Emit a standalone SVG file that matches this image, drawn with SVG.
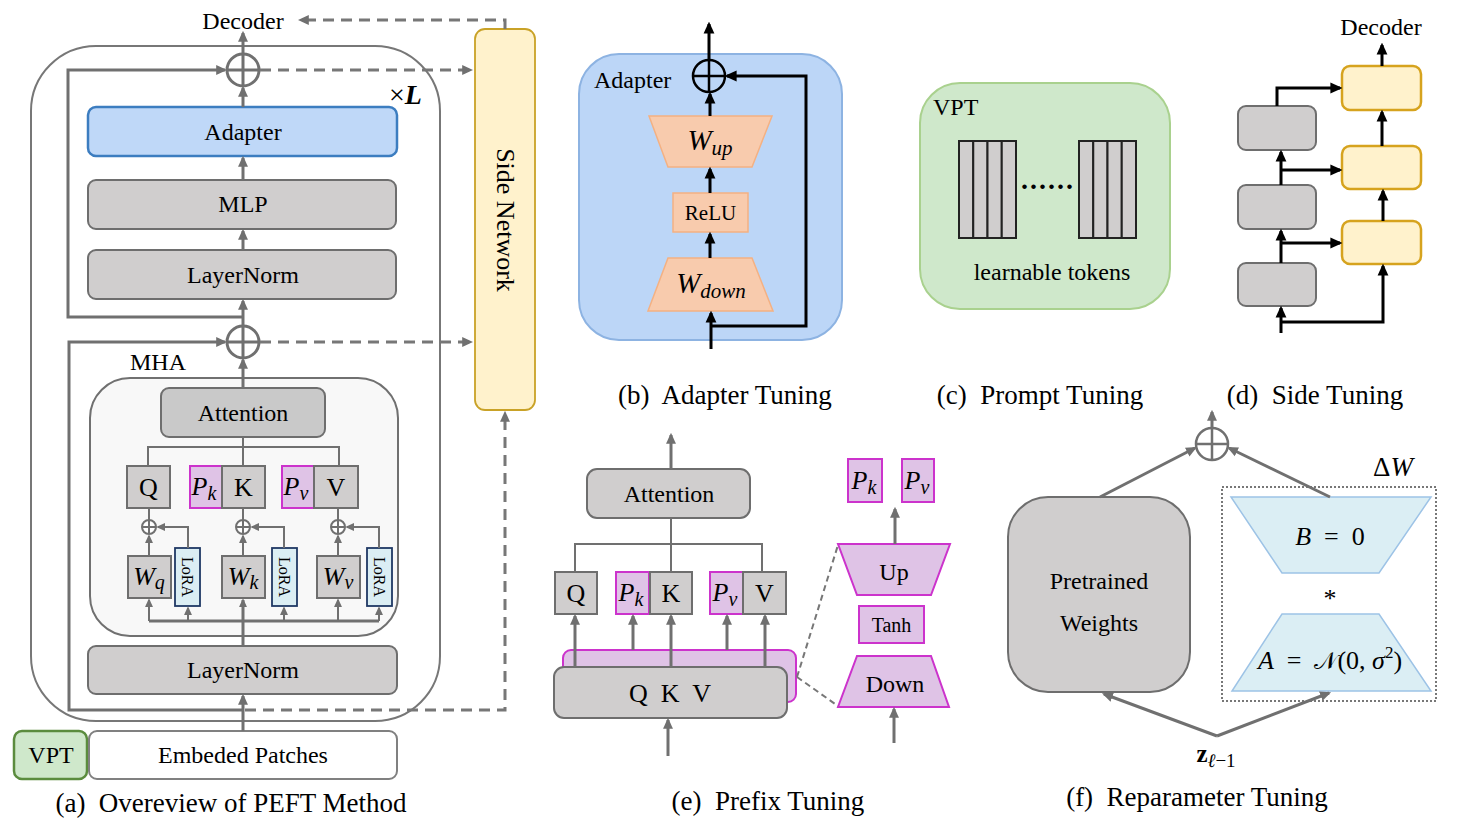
<svg xmlns="http://www.w3.org/2000/svg" width="1463" height="827" viewBox="0 0 1463 827">
<style>
text{font-family:"Liberation Serif","Times New Roman",serif;fill:#000}
.m{text-anchor:middle}
.i{font-style:italic}
.f24{font-size:24px}
.f26{font-size:26px}
.cap{font-size:27px;text-anchor:middle}
.gb{fill:#d0cece;stroke:#6e6e6e;stroke-width:2}
.pk{fill:#dfc3e6;stroke:#cc33cc;stroke-width:2}
.lora{fill:#dbeef4;stroke:#1f3864;stroke-width:1.8}
.yb{fill:#fff2cc;stroke:#d6a31e;stroke-width:2.5}
.or{fill:#f8cbad;stroke:#f4b183;stroke-width:1.5}
.lb{fill:#dbeef4;stroke:#9dc3e6;stroke-width:1.5}
.g3{fill:none;stroke:#707070;stroke-width:3}
.g2{fill:none;stroke:#707070;stroke-width:2}
.k3{fill:none;stroke:#000;stroke-width:3}
.dash{fill:none;stroke:#777;stroke-width:3;stroke-dasharray:11,7}
</style>
<defs>
<marker id="ag" viewBox="0 0 10 10" refX="8" refY="5" markerWidth="11" markerHeight="11" markerUnits="userSpaceOnUse" orient="auto"><path d="M0,0.5 L10,5 L0,9.5 z" fill="#707070"/></marker>
<marker id="ags" viewBox="0 0 10 10" refX="8" refY="5" markerWidth="9" markerHeight="9" markerUnits="userSpaceOnUse" orient="auto"><path d="M0,0.5 L10,5 L0,9.5 z" fill="#707070"/></marker>
<marker id="ab" viewBox="0 0 10 10" refX="8" refY="5" markerWidth="12" markerHeight="12" markerUnits="userSpaceOnUse" orient="auto"><path d="M0,0.5 L10,5 L0,9.5 z" fill="#000"/></marker>
</defs>
<rect width="1463" height="827" fill="#fff"/>

<!-- ===== Panel (a) ===== -->
<g id="a-block"><rect x="31" y="46" width="409" height="675" rx="65" fill="none" stroke="#777" stroke-width="2"/></g>
<g id="a-xL"><text x="389" y="104" font-size="28">×<tspan font-weight="bold" font-style="italic">L</tspan></text></g>
<g id="a-decoder"><text x="243" y="29" class="m f24">Decoder</text></g>
<g id="a-adapter"><rect x="88" y="107" width="309" height="49" rx="8" fill="#bfd8f8" stroke="#3c7dc0" stroke-width="2.5"/><text x="243" y="140" class="m f24">Adapter</text></g>
<g id="a-mlp"><rect x="88" y="180" width="308" height="49" rx="8" class="gb"/><text x="243" y="212" class="m f24">MLP</text></g>
<g id="a-ln1"><rect x="88" y="250" width="308" height="49" rx="8" class="gb"/><text x="243" y="283" class="m f24">LayerNorm</text></g>
<g id="a-mha"><rect x="90" y="378" width="308" height="258" rx="40" fill="#f8f8f8" stroke="#707070" stroke-width="2"/><text x="158" y="370" class="m f24">MHA</text></g>
<g id="a-attn"><rect x="161" y="388" width="164" height="49" rx="8" fill="#c9c9c9" stroke="#6e6e6e" stroke-width="2"/><text x="243" y="421" class="m f24">Attention</text></g>
<g id="a-q"><rect x="127" y="466" width="43" height="42" class="gb"/><text x="148.5" y="496" class="m f26">Q</text></g>
<g id="a-pk"><rect x="190" y="466" width="32" height="42" class="pk"/><text x="204" y="495" class="m f26 i">P<tspan font-size="20" dy="5">k</tspan></text></g>
<g id="a-k"><rect x="222" y="466" width="43" height="42" class="gb"/><text x="243.5" y="496" class="m f26">K</text></g>
<g id="a-pv"><rect x="282" y="466" width="32" height="42" class="pk"/><text x="296" y="495" class="m f26 i">P<tspan font-size="20" dy="5">v</tspan></text></g>
<g id="a-v"><rect x="314" y="466" width="44" height="42" class="gb"/><text x="336" y="496" class="m f26">V</text></g>
<g id="a-wq"><rect x="128" y="556" width="43" height="42" class="gb"/><text x="149" y="585" class="m f26 i">W<tspan font-size="20" dy="4">q</tspan></text></g>
<g id="a-wk"><rect x="222" y="556" width="43" height="42" class="gb"/><text x="243" y="585" class="m f26 i">W<tspan font-size="20" dy="4">k</tspan></text></g>
<g id="a-wv"><rect x="317" y="556" width="43" height="42" class="gb"/><text x="338" y="585" class="m f26 i">W<tspan font-size="20" dy="4">v</tspan></text></g>
<g id="a-loraq"><rect x="175" y="548" width="25" height="58" class="lora"/><text x="187.5" y="577" class="m" font-size="16" dominant-baseline="central" transform="rotate(90 187.5 577)">LoRA</text></g>
<g id="a-lorak"><rect x="272" y="548" width="25" height="58" class="lora"/><text x="284.5" y="577" class="m" font-size="16" dominant-baseline="central" transform="rotate(90 284.5 577)">LoRA</text></g>
<g id="a-lorav"><rect x="367" y="548" width="25" height="58" class="lora"/><text x="379.5" y="577" class="m" font-size="16" dominant-baseline="central" transform="rotate(90 379.5 577)">LoRA</text></g>
<g id="a-ln2"><rect x="88" y="646" width="309" height="48" rx="8" class="gb"/><text x="243" y="678" class="m f24">LayerNorm</text></g>
<g id="a-vpt"><rect x="14" y="731" width="73" height="48" rx="8" fill="#cfe8cb" stroke="#5b8c3e" stroke-width="2.5"/><text x="51" y="763" class="m f24">VPT</text></g>
<g id="a-embed"><rect x="89" y="731" width="308" height="48" rx="8" fill="#fff" stroke="#808080" stroke-width="2"/><text x="243" y="763" class="m f24">Embeded Patches</text></g>
<g id="a-side"><rect x="475" y="29" width="60" height="381" rx="10" fill="#fff2cc" stroke="#c9a227" stroke-width="1.8"/><text x="505" y="220" class="m f26" dominant-baseline="central" transform="rotate(90 505 220)">Side Network</text></g>
<g id="a-caption"><text x="231" y="812" class="cap" xml:space="preserve">(a)  Overeview of PEFT Method</text></g>

<!-- ===== Panel (b) ===== -->
<g id="b-adapter"><rect x="579" y="54" width="263" height="286" rx="40" fill="#bcd6f7" stroke="#8db3e2" stroke-width="2"/><text x="594" y="88" class="f24">Adapter</text></g>
<g id="b-wup"><polygon points="649,116 772,116 752,167 668,167" class="or"/><text x="710" y="150" class="m i" font-size="29">W<tspan font-size="21" dy="5">up</tspan></text></g>
<g id="b-relu"><rect x="673" y="193" width="75" height="39" class="or"/><text x="710.5" y="220" class="m" font-size="21">ReLU</text></g>
<g id="b-wdown"><polygon points="668,258 752,258 773,311 648,311" class="or"/><text x="711" y="293" class="m i" font-size="29">W<tspan font-size="21" dy="5">down</tspan></text></g>
<g id="b-caption"><text x="725" y="404" class="cap" xml:space="preserve">(b)  Adapter Tuning</text></g>

<!-- ===== Panel (c) ===== -->
<g id="c-vpt"><rect x="920" y="83" width="250" height="226" rx="40" fill="#cfe8cb" stroke="#a9d18e" stroke-width="2"/><text x="933" y="115" class="f24">VPT</text></g>
<g id="c-tokens-left" fill="#d0cece" stroke="#222" stroke-width="2">
<rect x="959" y="141" width="14.25" height="97"/><rect x="973.25" y="141" width="14.25" height="97"/><rect x="987.5" y="141" width="14.25" height="97"/><rect x="1001.75" y="141" width="14.25" height="97"/></g>
<g id="c-tokens-right" fill="#d0cece" stroke="#222" stroke-width="2">
<rect x="1079" y="141" width="14.25" height="97"/><rect x="1093.25" y="141" width="14.25" height="97"/><rect x="1107.5" y="141" width="14.25" height="97"/><rect x="1121.75" y="141" width="14.25" height="97"/></g>
<g id="c-dots"><text x="1048" y="189" class="m" font-size="28" font-weight="bold" letter-spacing="2">......</text></g>
<g id="c-label"><text x="1052" y="280" class="m f24">learnable tokens</text></g>
<g id="c-caption"><text x="1040" y="404" class="cap" xml:space="preserve">(c)  Prompt Tuning</text></g>

<!-- ===== Panel (d) ===== -->
<g id="d-decoder"><text x="1381" y="35" class="m f24">Decoder</text></g>
<g id="d-y1"><rect x="1342" y="66" width="79" height="44" rx="8" class="yb"/></g>
<g id="d-y2"><rect x="1342" y="146" width="79" height="43" rx="8" class="yb"/></g>
<g id="d-y3"><rect x="1342" y="221" width="79" height="43" rx="8" class="yb"/></g>
<g id="d-g1"><rect x="1238" y="106" width="78" height="44" rx="8" class="gb"/></g>
<g id="d-g2"><rect x="1238" y="185" width="78" height="44" rx="8" class="gb"/></g>
<g id="d-g3"><rect x="1238" y="263" width="78" height="43" rx="8" class="gb"/></g>
<g id="d-caption"><text x="1315" y="404" class="cap" xml:space="preserve">(d)  Side Tuning</text></g>

<!-- ===== Panel (e) ===== -->
<g id="e-attn"><rect x="587" y="469" width="163" height="49" rx="10" class="gb"/><text x="669" y="502" class="m f24">Attention</text></g>
<g id="e-q"><rect x="555" y="572" width="42" height="42" class="gb"/><text x="576" y="602" class="m f26">Q</text></g>
<g id="e-pk"><rect x="616" y="572" width="33" height="42" class="pk"/><text x="631" y="601" class="m f26 i">P<tspan font-size="20" dy="5">k</tspan></text></g>
<g id="e-k"><rect x="650" y="572" width="42" height="42" class="gb"/><text x="671" y="602" class="m f26">K</text></g>
<g id="e-pv"><rect x="710" y="572" width="33" height="42" class="pk"/><text x="725" y="601" class="m f26 i">P<tspan font-size="20" dy="5">v</tspan></text></g>
<g id="e-v"><rect x="743" y="572" width="43" height="42" class="gb"/><text x="764.5" y="602" class="m f26">V</text></g>
<g id="e-prefix"><rect x="563" y="650" width="233" height="52" rx="8" class="pk"/></g>
<g id="e-qkv"><rect x="554" y="667" width="233" height="51" rx="10" class="gb"/><text x="670" y="702" class="m f26" xml:space="preserve">Q  K  V</text></g>
<g id="e-up"><polygon points="838,544 950,544 931,595 857,595" class="pk"/><text x="894" y="580" class="m f24">Up</text></g>
<g id="e-tanh"><rect x="859" y="606" width="65" height="37" class="pk"/><text x="891.5" y="632" class="m" font-size="20">Tanh</text></g>
<g id="e-down"><polygon points="857,656 931,656 949,707 838,707" class="pk"/><text x="895" y="692" class="m f24">Down</text></g>
<g id="e-pk2"><rect x="848" y="459" width="34" height="43" class="pk"/><text x="864" y="489" class="m f26 i">P<tspan font-size="20" dy="5">k</tspan></text></g>
<g id="e-pv2"><rect x="902" y="459" width="32" height="43" class="pk"/><text x="917" y="489" class="m f26 i">P<tspan font-size="20" dy="5">v</tspan></text></g>
<g id="e-caption"><text x="768" y="810" class="cap" xml:space="preserve">(e)  Prefix Tuning</text></g>

<!-- ===== Panel (f) ===== -->
<g id="f-pretrained"><rect x="1008" y="497" width="182" height="195" rx="40" class="gb"/><text x="1099" y="589" class="m f24">Pretrained</text><text x="1099" y="631" class="m f24">Weights</text></g>
<g id="f-deltaW"><rect x="1222" y="487" width="214" height="214" fill="none" stroke="#777" stroke-width="2" stroke-dasharray="2,2"/><text x="1393" y="476" class="m" font-size="27">Δ<tspan font-style="italic">W</tspan></text></g>
<g id="f-B"><polygon points="1231,497 1431,497 1379,573 1282,573" class="lb"/><text x="1330" y="545" class="m f26" xml:space="preserve"><tspan font-style="italic">B</tspan>  =  0</text></g>
<g id="f-star"><text x="1330" y="607" class="m f26">*</text></g>
<g id="f-A"><polygon points="1282,614 1379,614 1431,691 1232,691" class="lb"/><text x="1330" y="669" class="m f26" xml:space="preserve"><tspan font-style="italic">A</tspan>  =  <tspan font-family="DejaVu Serif, serif" font-size="24">𝒩</tspan>(0, <tspan font-style="italic">σ</tspan><tspan font-size="17" dy="-11">2</tspan><tspan dy="11">)</tspan></text></g>
<g id="f-z"><text x="1216" y="762" class="m" font-size="25" font-weight="bold">z<tspan font-weight="normal" font-style="italic" font-size="19" dy="5">ℓ</tspan><tspan font-weight="normal" font-size="19">−1</tspan></text></g>
<g id="f-caption"><text x="1197" y="806" class="cap" xml:space="preserve">(f)  Reparameter Tuning</text></g>

<!-- ===== Connectors ===== -->
<g id="connectors">
<!-- (a) -->
<g class="g3">
<circle cx="243" cy="70" r="16" fill="#fff"/><path d="M227,70 H259 M243,54 V86"/>
<circle cx="243" cy="342" r="16" fill="#fff"/><path d="M227,342 H259 M243,326 V358"/>
<path d="M243,54 V33" marker-end="url(#ag)"/>
<path d="M243,107 V88" marker-end="url(#ag)"/>
<path d="M243,180 V158" marker-end="url(#ag)"/>
<path d="M243,250 V231" marker-end="url(#ag)"/>
<path d="M243,326 V301" marker-end="url(#ag)"/>
<path d="M243,388 V360" marker-end="url(#ag)"/>
<path d="M243,317 H68 V70 H225" marker-end="url(#ag)"/>
<path d="M242,710 H69 V342 H225" marker-end="url(#ag)"/>
<path d="M243,731 V696" marker-end="url(#ag)"/>
</g>
<path class="dash" d="M260,70 H471" marker-end="url(#ag)"/>
<path class="dash" d="M260,342 H471" marker-end="url(#ag)"/>
<path class="dash" d="M245,710 H505 V413" marker-end="url(#ag)"/>
<path class="dash" d="M505,29 V20 H300" marker-end="url(#ag)"/>
<g class="g2">
<path d="M243,437 V466 M148,466 V447 H339 V466"/>
<path d="M149,508 V520 M243,508 V520 M338,508 V520"/>
<circle cx="149" cy="527" r="7" fill="#fff"/><path d="M142,527 H156 M149,520 V534"/>
<circle cx="243" cy="527" r="7" fill="#fff"/><path d="M236,527 H250 M243,520 V534"/>
<circle cx="338" cy="527" r="7" fill="#fff"/><path d="M331,527 H345 M338,520 V534"/>
<path d="M149,556 V536" marker-end="url(#ags)"/>
<path d="M243,556 V536" marker-end="url(#ags)"/>
<path d="M338,556 V536" marker-end="url(#ags)"/>
<path d="M188,548 V527 H158" marker-end="url(#ags)"/>
<path d="M284,548 V527 H252" marker-end="url(#ags)"/>
<path d="M379,548 V527 H347" marker-end="url(#ags)"/>
<path d="M149,621 H379" stroke-width="3"/>
<path d="M149,621 V600" marker-end="url(#ags)"/>
<path d="M188,621 V608" marker-end="url(#ags)"/>
<path d="M243,646 V600" stroke-width="3" marker-end="url(#ags)"/>
<path d="M284,621 V608" marker-end="url(#ags)"/>
<path d="M338,621 V600" marker-end="url(#ags)"/>
<path d="M379,621 V608" marker-end="url(#ags)"/>
</g>
<!-- (b) -->
<g class="k3">
<circle cx="709" cy="76" r="16" fill="none" stroke-width="2.5"/><path d="M693,76 H725 M709,60 V92" stroke-width="2.5"/>
<path d="M709,60 V24" marker-end="url(#ab)"/>
<path d="M710,116 V94" marker-end="url(#ab)"/>
<path d="M710,193 V169" marker-end="url(#ab)"/>
<path d="M710,258 V234" marker-end="url(#ab)"/>
<path d="M711,349 V313" marker-end="url(#ab)"/>
<path d="M711,326 H806 V76 H727" marker-end="url(#ab)"/>
</g>
<!-- (d) -->
<g class="k3">
<path d="M1382,66 V45" marker-end="url(#ab)"/>
<path d="M1382,146 V112" marker-end="url(#ab)"/>
<path d="M1383,221 V191" marker-end="url(#ab)"/>
<path d="M1277,106 V88 H1340" marker-end="url(#ab)"/>
<path d="M1281,185 V152" marker-end="url(#ab)"/>
<path d="M1281,170 H1340" marker-end="url(#ab)"/>
<path d="M1281,263 V231" marker-end="url(#ab)"/>
<path d="M1281,243 H1340" marker-end="url(#ab)"/>
<path d="M1281,333 V308" marker-end="url(#ab)"/>
<path d="M1281,322 H1383 V266" marker-end="url(#ab)"/>
</g>
<!-- (e) -->
<g class="g2">
<path d="M671,518 V572 M575,572 V544 H762 V572"/>
</g>
<g class="g3">
<path d="M671,469 V435" marker-end="url(#ag)"/>
<path d="M575,667 V616" marker-end="url(#ag)"/>
<path d="M633,650 V616" marker-end="url(#ag)"/>
<path d="M671,667 V616" marker-end="url(#ag)"/>
<path d="M727,650 V616" marker-end="url(#ag)"/>
<path d="M765,667 V616" marker-end="url(#ag)"/>
<path d="M668,756 V720" marker-end="url(#ag)"/>
<path d="M894,743 V709" marker-end="url(#ag)"/>
<path d="M895,544 V509" marker-end="url(#ag)"/>
</g>
<path d="M797,677 L838,545 M797,677 L838,706" fill="none" stroke="#777" stroke-width="2" stroke-dasharray="6,4"/>
<!-- (f) -->
<g class="g3">
<circle cx="1212" cy="444" r="16" fill="#fff" stroke-width="2.5"/><path d="M1196,444 H1228 M1212,428 V460" stroke-width="2.5"/>
<path d="M1212,428 V412" marker-end="url(#ag)"/>
<path d="M1100,497 L1195,448" marker-end="url(#ag)"/>
<path d="M1330,497 L1229,448" marker-end="url(#ag)"/>
<path d="M1217,736 L1104,694" marker-end="url(#ag)"/>
<path d="M1217,736 L1329,693" marker-end="url(#ag)"/>
</g>
</g>
</svg>
